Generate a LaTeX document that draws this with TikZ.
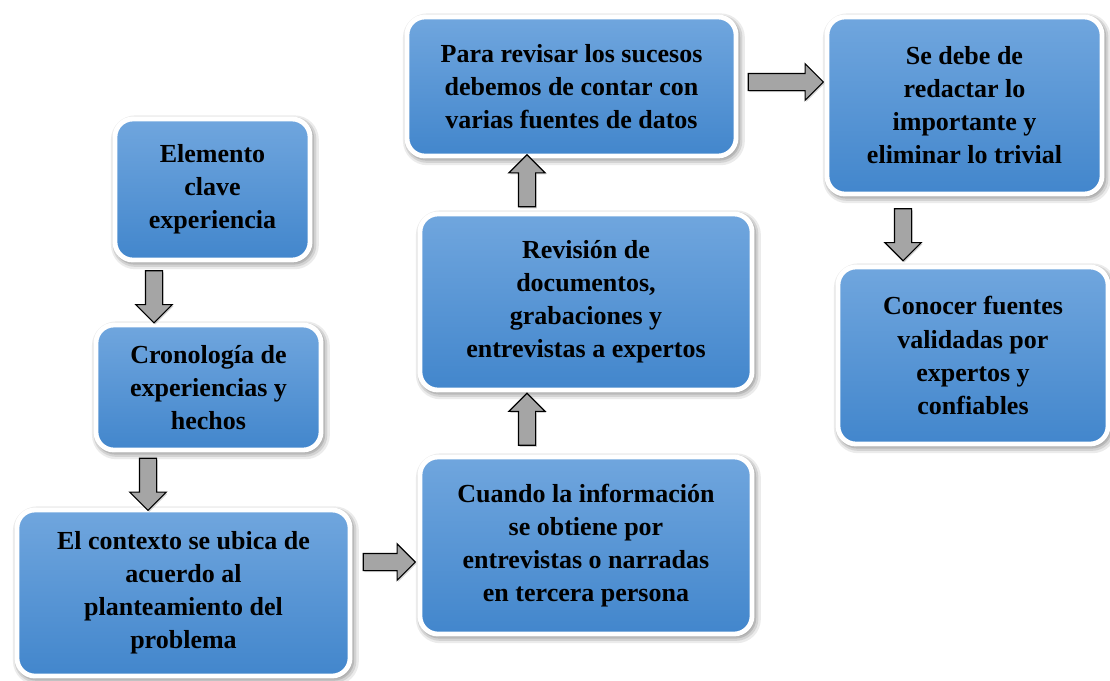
\documentclass[tikz,border=0pt]{standalone}
\usepackage{fontspec}
\setmainfont{Liberation Serif}
\usetikzlibrary{shapes.arrows,shadows}

\definecolor{boxtop}{RGB}{112,166,222}
\definecolor{boxbot}{RGB}{66,134,204}
\definecolor{arrowgray}{RGB}{165,165,165}

\tikzset{
  softshadow/.style={
    drop shadow={shadow xshift=0.06cm, shadow yshift=-0.07cm, opacity=0.08, draw=black, line width=0.32cm},
    drop shadow={shadow xshift=0.05cm, shadow yshift=-0.06cm, opacity=0.1, draw=black, line width=0.22cm},
    drop shadow={shadow xshift=0.04cm, shadow yshift=-0.05cm, opacity=0.12, draw=black, line width=0.13cm}},
  stepbox/.style={rectangle, rounded corners=0.45cm, draw=white, line width=0.12cm,
    top color=boxtop, bottom color=boxbot, align=center, inner sep=0pt,
    font=\fontsize{18.5}{23.5}\selectfont\bfseries, softshadow},
  blockarrow/.style={single arrow, draw=black, line width=0.8pt, fill=arrowgray,
    inner sep=0.2cm, minimum height=1.3cm, single arrow head extend=0.24cm,
    single arrow head indent=0pt, sloped, allow upside down,
    drop shadow={shadow xshift=0.03cm, shadow yshift=-0.04cm, opacity=0.35}}
}

\begin{document}
\begin{tikzpicture}[x=0.025cm,y=-0.025cm]
  \useasboundingbox (0,0) rectangle (1110,680);

  % ---- left column ----
  \node[stepbox, minimum width=4.875cm, minimum height=3.525cm] (clave) at (212.5,189.5)
    {Elemento\\clave\\experiencia};
  \node[stepbox, minimum width=5.625cm, minimum height=3.125cm] (crono) at (208.5,387.5)
    {Cronología de\\experiencias y\\hechos};
  \node[stepbox, minimum width=8.325cm, minimum height=4.15cm] (contexto) at (183.5,593)
    {El contexto se ubica de\\acuerdo al\\planteamiento del\\problema};

  % ---- middle column ----
  \node[stepbox, minimum width=8.3cm, minimum height=4.425cm] (cuando) at (586,545.5)
    {Cuando la información\\se obtiene por\\entrevistas o narradas\\en tercera persona};
  \node[stepbox, minimum width=8.3cm, minimum height=4.4cm] (revision) at (586,302)
    {Revisión de\\documentos,\\grabaciones y\\entrevistas a expertos};
  \node[stepbox, minimum width=8.225cm, minimum height=3.475cm] (revisar) at (571.5,86.5)
    {Para revisar los sucesos\\debemos de contar con\\varias fuentes de datos};

  % ---- right column ----
  \node[stepbox, minimum width=6.875cm, minimum height=4.425cm] (redactar) at (964.5,105.5)
    {Se debe de\\redactar lo\\importante y\\eliminar lo trivial};
  \node[stepbox, minimum width=6.75cm, minimum height=4.425cm] (conocer) at (973,355.5)
    {Conocer fuentes\\validadas por\\expertos y\\confiables};

  % ---- block arrows ----
  \coordinate (ax1) at (154,0);
  \coordinate (ax2) at (148,0);
  \coordinate (ay3) at (0,562);
  \coordinate (ax4) at (527,0);
  \coordinate (ay6) at (0,82);
  \coordinate (ax7) at (903,0);

  \path (clave.south -| ax1) -- (crono.north -| ax1) node[midway, blockarrow] {};
  \path (crono.south -| ax2) -- (contexto.north -| ax2) node[midway, blockarrow] {};
  \path (contexto.east |- ay3) -- (cuando.west |- ay3) node[midway, blockarrow] {};
  \path (cuando.north -| ax4) -- (revision.south -| ax4) node[midway, blockarrow] {};
  \path (revision.north -| ax4) -- (revisar.south -| ax4) node[midway, blockarrow] {};
  \path (revisar.east |- ay6) -- (redactar.west |- ay6) node[midway, blockarrow, minimum height=1.875cm] {};
  \path (redactar.south -| ax7) -- (conocer.north -| ax7) node[midway, blockarrow] {};

\end{tikzpicture}
\end{document}
